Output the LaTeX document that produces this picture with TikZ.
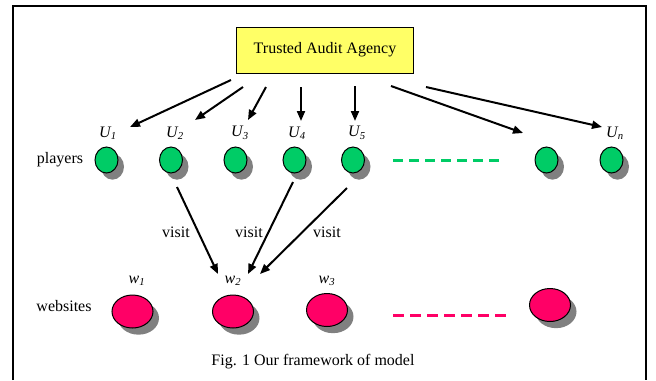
\documentclass[tikz,border=0pt]{standalone}
\usepackage{fontspec}
\setmainfont{Liberation Serif}
\usetikzlibrary{arrows.meta}
\usetikzlibrary{shapes}
\usetikzlibrary{shadows}

\definecolor{agencyyellow}{RGB}{255,255,102}
\definecolor{playergreen}{RGB}{0,204,102}
\definecolor{sitepink}{RGB}{255,0,102}

\begin{document}
\begin{tikzpicture}[x=0.75pt,y=0.75pt,yscale=-1,xscale=1,
  font=\fontsize{12}{14}\selectfont,
  player/.style={ellipse, draw, line width=0.75pt, fill=playergreen, inner sep=0pt,
    minimum width=17.25pt, minimum height=19.5pt,
    drop shadow={shadow xshift=4.5pt, shadow yshift=-5pt, fill=gray, opacity=1}},
  site/.style={ellipse, draw, line width=0.75pt, fill=sitepink, inner sep=0pt,
    minimum width=30.75pt, minimum height=24.75pt,
    drop shadow={shadow xshift=4.5pt, shadow yshift=-5pt, fill=gray, opacity=1}},
  arr/.style={line width=1.5pt, -{Triangle[length=7.5pt,width=6pt]}},
  lab/.style={inner sep=0.75pt}]
\useasboundingbox (0,0) rectangle (656,380);

%Frame
\draw [line width=1.5pt] (13,380) -- (13,6) -- (646,6) -- (646,380) ;

%Shape: Rectangle
\node (agency) [draw, line width=0.75pt, fill=agencyyellow, minimum width=133pt, minimum height=34.5pt] at (325,50) {Trusted Audit Agency};

% Text Node
\node (players) [lab] at (60,160) {players};
% Text Node
\node (websites) [lab] at (64,306) {websites};

%Shape: Ellipse
\node (p1) [player] at (106.5,160) {};
\node (p2) [player] at (171,160) {};
\node (p3) [player] at (235.5,160) {};
\node (p4) [player] at (294.5,160) {};
\node (p5) [player] at (353,160) {};
\node (p6) [player] at (546.5,160) {};
\node (pn) [player] at (611.5,160) {};

% Text Node
\node (u1) [lab] at (108,133) {\textit{U\textsubscript{1}}};
\node (u2) [lab] at (175,133) {\textit{U\textsubscript{2}}};
\node (u3) [lab] at (240,133) {\textit{U\textsubscript{3}}};
\node (u4) [lab] at (297,133) {\textit{U\textsubscript{4}}};
\node (u5) [lab] at (357,133) {\textit{U\textsubscript{5}}};
\node (un) [lab] at (615,133) {\textit{U\textsubscript{n}}};

%Shape: Ellipse
\node (s1) [site] at (132.5,311.5) {};
\node (s2) [site] at (233,311.5) {};
\node (s3) [site] at (327,310) {};
\node (s4) [site] at (550,305) {};

% Text Node
\node (w1) [lab] at (137,281) {\textit{w\textsubscript{1}}};
\node (w2) [lab] at (233,281) {\textit{w\textsubscript{2}}};
\node (w3) [lab] at (327,281) {\textit{w\textsubscript{3}}};

%Straight Lines [dashed]
\coordinate (gd1) at (393,160);
\coordinate (gd2) at (502,160);
\draw [playergreen, line width=2.25pt, dash pattern=on 7.5pt off 4.5pt] (gd1) -- (gd2) ;
\coordinate (pd1) at (393,315);
\coordinate (pd2) at (506,315);
\draw [sitepink, line width=2.25pt, dash pattern=on 8.25pt off 4.5pt] (pd1) -- (pd2) ;

%Straight Lines [arrows from agency]
\coordinate (a1) at (231,80);   \coordinate (b1) at (130,127);
\coordinate (a2) at (243,87);   \coordinate (b2) at (195,120);
\coordinate (a3) at (266,87);   \coordinate (b3) at (248,120);
\coordinate (a4) at (301,87);   \coordinate (b4) at (301,121);
\coordinate (a5) at (355,86);   \coordinate (b5) at (355,121);
\coordinate (a6) at (391,86);   \coordinate (b6) at (523,133);
\coordinate (a7) at (426,87);   \coordinate (b7) at (602,127);
\draw [arr] (a1) -- (b1) ;
\draw [arr] (a2) -- (b2) ;
\draw [arr] (a3) -- (b3) ;
\draw [arr] (a4) -- (b4) ;
\draw [arr] (a5) -- (b5) ;
\draw [arr] (a6) -- (b6) ;
\draw [arr] (a7) -- (b7) ;

%Straight Lines [visit]
\coordinate (v1) at (177,187);  \coordinate (t1) at (218,274);
\coordinate (v2) at (293,182);  \coordinate (t2) at (248,274);
\coordinate (v3) at (347,188);  \coordinate (t3) at (260,274);
\draw [arr] (v1) -- (t1) ;
\draw [arr] (v2) -- (t2) ;
\draw [arr] (v3) -- (t3) ;

% Text Node
\node (visit1) [lab] at (176,232) {visit};
\node (visit2) [lab] at (249,232) {visit};
\node (visit3) [lab] at (327,232) {visit};

% Text Node
\node (caption) [lab] at (313,362) {Fig. 1 Our framework of model};

\end{tikzpicture}
\end{document}
